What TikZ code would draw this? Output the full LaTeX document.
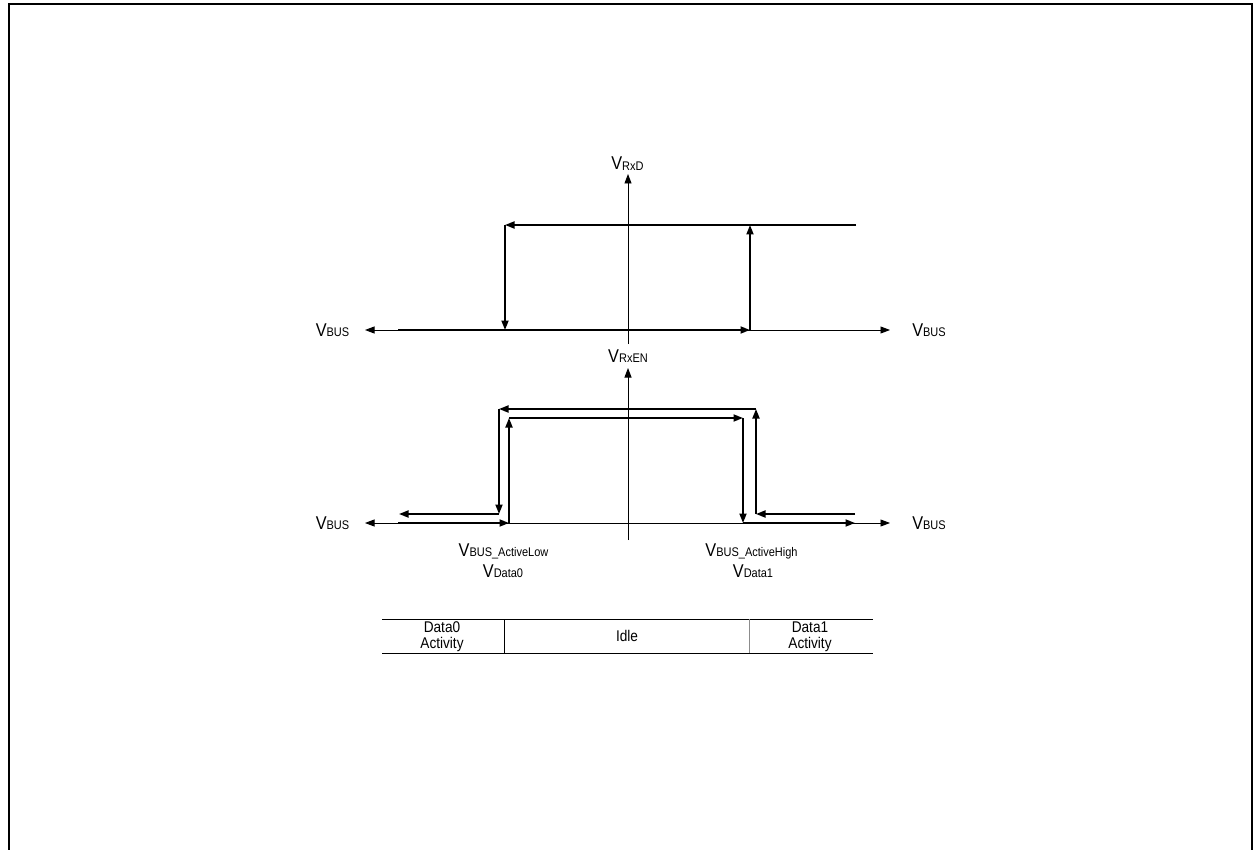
\documentclass[tikz,border=0pt]{standalone}
\usepackage{fontspec}
\setmainfont{Liberation Sans}[FakeStretch=0.88]
\usetikzlibrary{arrows.meta}
\newcommand{\vlab}[1]{{\fontsize{18.5}{18.5}\selectfont V}\raisebox{-0.6pt}{\fontsize{12.5}{12.5}\selectfont #1}}
\tikzset{
  axisline/.style={line width=0.9pt, black},
  trace/.style={line width=1.8pt, black},
  arr/.style={-{Triangle[length=9.5pt,width=7pt]}},
  biarr/.style={{Triangle[length=9.5pt,width=7pt]}-{Triangle[length=9.5pt,width=7pt]}},
  lab/.style={inner sep=0pt, anchor=base},
  tabtext/.style={inner sep=0pt, anchor=base, font=\fontsize{15.5}{17}\selectfont},
}
\begin{document}
\begin{tikzpicture}[x=1pt,y=-1pt]
\useasboundingbox (0,0) rectangle (1255,850);
% frame
\draw[line width=2pt] (9,851) -- (9,4) -- (1252,4) -- (1252,851);

% ---------- top graph ----------
\coordinate (TAxB) at (628,344);
\coordinate (TAxT) at (628,174);
\coordinate (THL) at (365,330);
\coordinate (THR) at (890,330);
\draw[axisline,arr] (TAxB) -- (TAxT);
\draw[axisline,biarr] (THL) -- (THR);

\coordinate (T1) at (856,225);
\coordinate (T2) at (505,225);
\coordinate (T3) at (505,330);
\coordinate (T4) at (398,330);
\coordinate (T5) at (750,330);
\coordinate (T6) at (750,225);
\draw[trace,arr] (T1) -- (T2);
\draw[trace,arr] (T2) -- (T3);
\draw[trace,arr] (T4) -- (T5);
\draw[trace,arr] (T5) -- (T6);

\node[lab] (lRxD) at (627.5,170) {\vlab{RxD}};
\node[lab] (lBusTL) at (332.5,336) {\vlab{BUS}};
\node[lab] (lBusTR) at (929,336) {\vlab{BUS}};

% ---------- bottom graph ----------
\coordinate (BAxB) at (628,540);
\coordinate (BAxT) at (628,368);
\coordinate (BHL) at (365,523);
\coordinate (BHR) at (890,523);
\draw[axisline,arr] (BAxB) -- (BAxT);
\draw[axisline,biarr] (BHL) -- (BHR);

\coordinate (B1) at (398,523);
\coordinate (B2) at (509,523);
\coordinate (B3) at (509,418);
\coordinate (B4) at (743,418);
\coordinate (B5) at (743,523);
\coordinate (B6) at (855,523);
\draw[trace,arr] (B1) -- (B2);
\draw[trace,arr] (B2) -- (B3);
\draw[trace,arr] (B3) -- (B4);
\draw[trace,arr] (B4) -- (B5);
\draw[trace,arr] (B5) -- (B6);

\coordinate (U1) at (855,514);
\coordinate (U2) at (756,514);
\coordinate (U3) at (756,409);
\coordinate (U4) at (499,409);
\coordinate (U5) at (499,514);
\coordinate (U6) at (399,514);
\draw[trace,arr] (U1) -- (U2);
\draw[trace,arr] (U2) -- (U3);
\draw[trace,arr] (U3) -- (U4);
\draw[trace,arr] (U4) -- (U5);
\draw[trace,arr] (U5) -- (U6);

\node[lab] (lRxEN) at (628,362) {\vlab{RxEN}};
\node[lab] (lBusBL) at (332.5,529) {\vlab{BUS}};
\node[lab] (lBusBR) at (929,529) {\vlab{BUS}};

\node[lab] (lActLow) at (503.5,556) {\vlab{BUS\_ActiveLow}};
\node[lab] (lData0) at (503,577) {\vlab{Data0}};
\node[lab] (lActHigh) at (751.5,556) {\vlab{BUS\_ActiveHigh}};
\node[lab] (lData1) at (753,577) {\vlab{Data1}};

% ---------- table ----------
\coordinate (TbTL) at (382,619);
\coordinate (TbTR) at (873,619);
\coordinate (TbBL) at (382,653);
\coordinate (TbBR) at (873,653);
\draw[line width=0.8pt] (TbTL) -- (TbTR);
\draw[line width=0.8pt] (TbBL) -- (TbBR);
\coordinate (D1T) at (504,619);
\coordinate (D1B) at (504,653);
\coordinate (D2T) at (749,619);
\coordinate (D2B) at (749,653);
\draw[line width=0.8pt] (D1T) -- (D1B);
\draw[line width=0.6pt, black!45] (D2T) -- (D2B);

\node[tabtext] (cData0a) at (442,632) {Data0};
\node[tabtext] (cData0b) at (442,648) {Activity};
\node[tabtext] (cIdle) at (627,641) {Idle};
\node[tabtext] (cData1a) at (810,632) {Data1};
\node[tabtext] (cData1b) at (810,648) {Activity};
\end{tikzpicture}
\end{document}
